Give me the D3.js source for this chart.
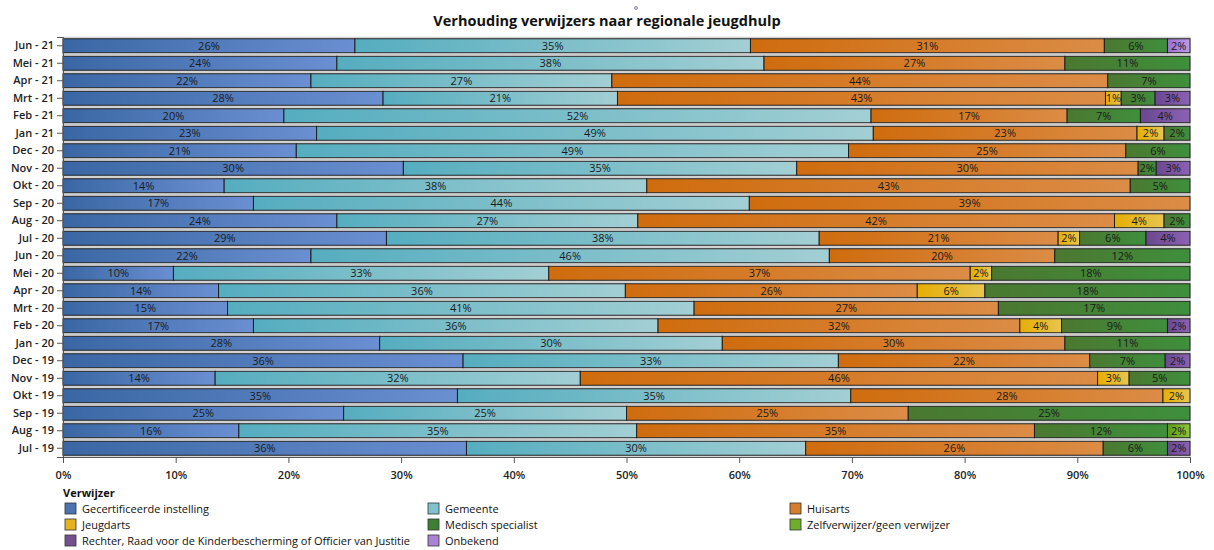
<!DOCTYPE html>
<html><head><meta charset="utf-8">
<script src="https://cdn.jsdelivr.net/npm/d3@7"></script>
<style>body{margin:0;background:#fff;} svg{display:block;font-family:"Open Sans","Noto Sans",sans-serif;}</style>
</head><body><svg id="c" width="1214" height="550"></svg>
<script>
const months = ["Jun - 21","Mei - 21","Apr - 21","Mrt - 21","Feb - 21","Jan - 21","Dec - 20","Nov - 20","Okt - 20","Sep - 20","Aug - 20","Jul - 20","Jun - 20","Mei - 20","Apr - 20","Mrt - 20","Feb - 20","Jan - 20","Dec - 19","Nov - 19","Okt - 19","Sep - 19","Aug - 19","Jul - 19"];
const seriesNames = ["Gecertificeerde instelling","Gemeente","Huisarts","Jeugdarts","Medisch specialist","Zelfverwijzer/geen verwijzer","Rechter, Raad voor de Kinderbescherming of Officier van Justitie","Onbekend"];
const gecertificeerd = [25.9,24.3,22.0,28.4,19.6,22.5,20.7,30.2,14.3,16.9,24.3,28.7,22.0,9.8,13.8,14.6,16.9,28.1,35.5,13.5,35.0,24.9,15.6,35.8];
const gemeente      = [35.1,37.9,26.7,20.8,52.1,49.4,49.0,34.9,37.5,44.0,26.7,38.4,46.0,33.3,36.1,41.4,35.9,30.4,33.3,32.4,34.9,25.1,35.3,30.1];
const huisarts      = [31.4,26.7,44.0,43.3,17.4,23.4,24.6,30.3,42.9,39.1,42.3,21.2,20.0,37.4,25.9,27.0,32.1,30.4,22.3,45.9,27.7,25.0,35.3,26.4];
const jeugdarts     = [0,0,0,1.4,0,2.4,0,0,0,0,4.4,1.9,0,1.9,6.0,0,3.7,0,0,2.8,2.4,0,0,0];
const medisch       = [5.6,11.1,7.3,3.0,6.5,2.3,5.7,1.6,5.3,0,2.3,5.9,12.0,17.6,18.2,17.0,9.4,11.1,6.7,5.4,0,25.0,11.8,5.7];
const zelf          = [0,0,0,0,0,0,0,0,0,0,0,0,0,0,0,0,0,0,0,0,0,0,2.0,0];
const rechter       = [0,0,0,3.1,4.4,0,0,3.0,0,0,0,3.9,0,0,0,0,2.0,0,2.2,0,0,0,0,2.0];
const onbekend      = [2.0,0,0,0,0,0,0,0,0,0,0,0,0,0,0,0,0,0,0,0,0,0,0,0];
const xTicks = [0,10,20,30,40,50,60,70,80,90,100];
const colorsA = ["#3a67a3","#55adbf","#cf6c0e","#e6ae05","#4b7830","#5e9a1c","#6a4790","#9e6fd2"];
const colorsB = ["#6a8fd2","#a2cfd4","#dc8c46","#e8c550","#3f8f3d","#8cc63a","#8c62b3","#bc9be3"];
const legendFill = ["#4c72b0","#7fc1cc","#d57e2e","#e6b31e","#3d7f34","#6fae2a","#74508f","#a983d8"];

const allSeries = [gecertificeerd,gemeente,huisarts,jeugdarts,medisch,zelf,rechter,onbekend];
const data = months.map((m,i)=>{const o={month:m}; seriesNames.forEach((s,k)=>o[s]=allSeries[k][i]); return o;});
const stacked = d3.stack().keys(seriesNames)(data);

const svg = d3.select("#c");
const margin = {left:63, right:24, top:37, bottom:93};
const x = d3.scaleLinear().domain([0,100]).range([margin.left, 1190]);
const y = d3.scaleBand().domain(months).range([margin.top, 457]).paddingInner(0.2).paddingOuter(0.1);

const defs = svg.append("defs");
seriesNames.forEach((s,k)=>{
  const g = defs.append("linearGradient").attr("id","g"+k).attr("x1","0%").attr("x2","100%").attr("y1","0").attr("y2","0");
  g.append("stop").attr("offset","0%").attr("stop-color",colorsA[k]);
  g.append("stop").attr("offset","100%").attr("stop-color",colorsB[k]);
});

svg.append("text").attr("x",607).attr("y",26).attr("text-anchor","middle")
  .attr("font-size",14.5).attr("font-weight",700).attr("fill","#111").text("Verhouding verwijzers naar regionale jeugdhulp");
svg.append("circle").attr("cx",636).attr("cy",8).attr("r",1.6).attr("fill","#c8b8e8").attr("stroke","#7a6ab0").attr("stroke-width",0.6);

svg.append("g").selectAll("rect").data(months).join("rect")
  .attr("x",x(0)).attr("y",d=>y(d)-1.5).attr("width",x(100)-x(0)).attr("height",y.bandwidth()+3)
  .attr("fill","none").attr("stroke","#c8c8c8").attr("stroke-width",1);

const layers = svg.append("g").selectAll("g").data(stacked).join("g").attr("fill",(d,k)=>`url(#g${k})`);
layers.selectAll("rect").data(d=>d.filter(p=>p[1]-p[0]>0)).join("rect")
  .attr("x",d=>x(d[0])).attr("y",d=>y(d.data.month))
  .attr("width",d=>x(d[1])-x(d[0])).attr("height",y.bandwidth())
  .attr("stroke","#1e1e1e").attr("stroke-width",1);
layers.selectAll("text").data(d=>d.filter(p=>p[1]-p[0]>0)).join("text")
  .attr("x",d=>(x(d[0])+x(d[1]))/2).attr("y",d=>y(d.data.month)+y.bandwidth()/2+4)
  .attr("text-anchor","middle").attr("font-size",11).attr("fill","#1a1a1a")
  .text(d=>Math.round(d[1]-d[0])+"%");

const yAx = svg.append("g").attr("transform",`translate(${margin.left},0)`).call(d3.axisLeft(y).tickSize(6).tickPadding(3));
yAx.select(".domain").attr("stroke","#555");
yAx.selectAll(".tick line").attr("stroke","#555");
yAx.selectAll("text").attr("font-size",11).attr("font-weight",600).attr("fill","#222").attr("font-family","'Open Sans',sans-serif");
const xAx = svg.append("g").attr("transform",`translate(0,457)`).call(d3.axisBottom(x).tickValues(xTicks).tickFormat(d=>d+"%").tickSize(6).tickPadding(8).tickSizeOuter(0));
xAx.select(".domain").attr("stroke","#555");
xAx.selectAll(".tick line").attr("stroke","#555");
xAx.selectAll("text").attr("font-size",11).attr("font-weight",600).attr("fill","#222").attr("font-family","'Open Sans',sans-serif");

const lg = svg.append("g");
lg.append("text").attr("x",63).attr("y",497).attr("font-size",11).attr("font-weight",700).attr("fill","#111").text("Verwijzer");
const colX = [65,428,790];
seriesNames.forEach((s,k)=>{
  const cx = colX[k%3], cy = 503 + Math.floor(k/3)*16;
  lg.append("rect").attr("x",cx).attr("y",cy).attr("width",11).attr("height",11)
    .attr("fill",legendFill[k]).attr("stroke","#333").attr("stroke-width",0.8);
  lg.append("text").attr("x",cx+17).attr("y",cy+10).attr("font-size",11).attr("fill","#111").text(s);
});
</script></body></html>
